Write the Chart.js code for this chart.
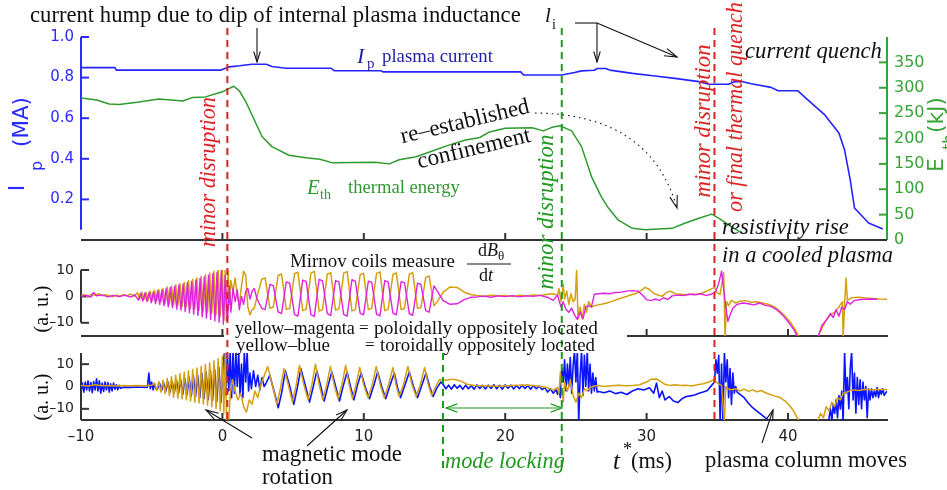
<!DOCTYPE html>
<html>
<head>
<meta charset="utf-8">
<title>Plasma current, thermal energy and Mirnov signals</title>
<script src="https://cdn.jsdelivr.net/npm/chart.js@4.4.1/dist/chart.umd.min.js"></script>
<style>
  html, body { margin: 0; padding: 0; background: #fff; }
  #stage { position: relative; width: 947px; height: 490px; overflow: hidden; background: #fff; }
  #stage canvas { position: absolute; left: 0; top: 0; }
</style>
</head>
<body>
<div id="stage">
  <canvas id="cTop" width="947" height="490"></canvas>
  <canvas id="cMid" width="947" height="490"></canvas>
  <canvas id="cBot" width="947" height="490"></canvas>
</div>
<script>
// ---- time axis (ms) ----
const T_MIN = -10, T_MAX = 47;
const timeTicks = [-10, 0, 10, 20, 30, 40];
const ipTicks = [0.2, 0.4, 0.6, 0.8, 1.0];
const ethTicks = [0, 50, 100, 150, 200, 250, 300, 350];
const mirnovTicks = [-10, 0, 10];

// event instants (ms)
const tMinor1 = 0.35, tLockStart = 15.6, tMinor2 = 24.0, tFinal = 34.8;

// plasma current I_p : [t (ms), MA]
const plasmaCurrent = [
  [-10,0.849],[-7.6,0.849],[-7.5,0.837],[-0.1,0.837],[0.5,0.853],[1.2,0.858],[2.1,0.866],[3.1,0.866],
  [3.5,0.855],[4.5,0.846],[7.7,0.846],[7.9,0.834],[11.2,0.834],[11.4,0.828],[21.1,0.828],[21.3,0.813],
  [24.0,0.813],[24.9,0.825],[25.4,0.833],[26.3,0.836],[26.5,0.845],[27.1,0.845],[27.4,0.837],[29.0,0.821],
  [30.6,0.808],[32.0,0.796],[33.7,0.780],[34.4,0.767],[35.8,0.767],[36.2,0.780],[36.8,0.780],[37.4,0.770],
  [38.8,0.752],[39.3,0.735],[40.7,0.735],[41.4,0.690],[42.6,0.616],[43.6,0.527],[44.0,0.443],[44.4,0.296],
  [44.7,0.158],[45.7,0.084],[46.7,0.054]
];

// thermal energy E_th : [t (ms), kJ]
const thermalEnergy = [
  [-10,280],[-8.9,276],[-8.0,268],[-7.3,267],[-5.9,272],[-4.5,278],[-2.8,274],[-2.1,281],[-1.2,282],
  [0.0,292],[0.8,303],[1.2,294],[1.7,270],[2.8,204],[3.5,184],[4.7,167],[5.9,162],[6.9,159],[7.8,152],
  [10.8,153],[11.8,150],[12.5,158],[13.7,164],[14.9,176],[15.8,185],[17.2,197],[18.2,202],[18.9,213],
  [20.0,220],[21.9,221],[22.7,215],[23.3,222],[23.9,225],[24.7,215],[25.4,184],[26.1,125],[26.8,85],
  [27.3,63],[28.0,39],[29.0,23],[29.9,20],[31.8,23],[32.7,33],[33.7,43],[34.6,51],[35.1,43],[36.0,26],[36.8,13]
];

// Mirnov coil dB/dt, poloidal pair (a.u.) : [t (ms), value]
const mirnovYellowPol = [
  [-10,0.3],[-9.75,0.7],[-9.5,-0.2],[-9.25,0.9],[-9,0.4],[-8.75,1.0],[-8.5,0.2],[-8.25,0.6],[-8,0.3],[-7.75,-0.1],
  [-7.5,0.5],[-7.25,0.1],[-7,0.6],[-6.75,0.2],[-6.5,0.9],[-6.25,0.1],
  [-6.0,1.4],[-5.85,-1.0],[-5.7,1.6],[-5.55,-1.2],[-5.4,1.5],[-5.25,-1.4],[-5.1,2.0],[-4.95,-1.5],[-4.8,2.2],
  [-4.65,-1.8],[-4.5,2.6],[-4.35,-2.0],[-4.2,3.0],[-4.05,-2.6],[-3.9,3.6],[-3.75,-2.8],[-3.6,3.9],[-3.45,-3.2],
  [-3.3,4.4],[-3.15,-3.4],[-3.0,4.9],[-2.85,-3.8],[-2.7,5.3],[-2.55,-4.0],[-2.4,5.9],[-2.25,-4.5],[-2.1,6.4],
  [-1.95,-4.8],[-1.8,7.0],[-1.65,-5.2],[-1.5,7.6],[-1.35,-5.6],[-1.2,8.2],[-1.05,-6.0],[-0.9,8.9],[-0.75,-6.4],
  [-0.6,9.5],[-0.45,-6.9],[-0.3,10.5],[-0.15,-7.4],[0.0,10.5],[0.1,-9],[0.2,10.5],[0.3,-14],[0.4,10.5],[0.5,-3],
  [0.6,6],[0.75,2],[0.9,7],[1.05,0],[1.2,-3],[1.35,4],[1.5,9.5],[1.65,8],[1.8,-4],[1.95,-7],[2.1,-5],[2.25,-4.5],[2.5,1],
  [2.78,6.5],[3.02,7.0],[3.36,-4.5],[3.6,-4.0],
  [3.94,7.9],[4.18,8.5],[4.52,-5.0],[4.76,-4.6],
  [5.1,8.6],[5.34,9.2],[5.68,-5.4],[5.92,-4.9],
  [6.26,8.8],[6.5,9.5],[6.84,-5.6],[7.08,-5.0],
  [7.42,8.4],[7.66,9.0],[8.0,-5.2],[8.24,-4.7],
  [8.58,8.8],[8.82,9.4],[9.16,-5.5],[9.4,-5.0],
  [9.74,8.2],[9.98,8.8],[10.32,-5.0],[10.56,-4.5],
  [10.9,8.7],[11.14,9.3],[11.48,-5.4],[11.72,-4.8],
  [12.06,8.3],[12.3,8.9],[12.64,-5.0],[12.88,-4.5],
  [13.22,8.4],[13.46,9.0],[13.8,-4.6],[14.04,-4.2],
  [14.38,7.2],[14.62,7.7],[14.96,-3.5],[15.2,-2.0],
  [15.6,1.5],[16.1,3.6],[16.6,3.4],[17.1,1.6],[17.6,0.6],
  [18.0,0.3],[18.5,0.1],[19.0,0.4],[19.5,0.2],[20.0,0.3],[20.5,0.0],[21.0,0.4],[21.5,0.2],[22.0,0.5],[22.5,0.3],
  [23.0,0.8],[23.4,1.0],[23.7,0.4],
  [23.8,3.0],[23.95,-2.0],[24.1,4.5],[24.2,-1],[24.35,2],[24.5,-3],[24.65,1],[24.8,-2],[24.95,-1],[25.05,10],
  [25.15,-8.5],[25.3,-4],[25.45,-8.5],[25.6,-3],[25.75,-6],[25.9,-2],[26.1,-4],[26.4,-3.4],[26.8,-3],[27.2,-2.5],
  [27.6,-1.8],[28.0,-1.0],[28.4,-0.3],[28.8,0.4],[29.2,1.0],[29.6,2.2],[29.9,3.4],[30.2,2.6],[30.5,1.2],[30.8,0.5],
  [31.1,0.0],[31.4,1.5],[31.7,2.0],[32.0,1.0],[32.4,0.8],[32.8,0.6],[33.2,0.9],[33.6,0.7],[34.0,1.4],[34.4,2.4],
  [34.8,3.4],[35.0,1.2],[35.2,0.8],[35.45,9],[35.55,-16],[35.65,-2],[35.8,-3.5],[36.0,-1.5],[36.3,-2.5],[36.6,-1.8],
  [37.0,-1.6],[37.4,-2.2],[37.8,-2.0],[38.2,-2.5],[38.6,-3.0],[39.0,-3.8],[39.4,-5.5],[39.8,-7.5],[40.2,-10],
  [40.5,-12.5],[40.8,-15.5],[41.0,-20],[42.0,-20],[42.15,-15],[42.4,-12],[42.7,-9],[43.0,-7],[43.3,-6],[43.6,-4],
  [43.85,-2],[43.9,-16],[44.0,-3],[44.1,7],[44.2,-1.5],[44.5,-0.5],[45.0,-0.3],[45.5,-0.6],[46.0,-0.8],[46.5,-1.0],[47,-1.1]
];

const mirnovMagentaPol = [
  [-10,0.0],[-9.6,0.4],[-9.3,-0.3],[-9.1,1.5],[-8.9,0.2],[-8.5,0.6],[-8.1,-0.2],[-7.7,0.4],[-7.3,-0.1],[-6.9,0.5],
  [-6.5,-0.3],[-6.2,0.6],
  [-5.93,-1.4],[-5.78,1.2],[-5.63,-1.8],[-5.48,1.3],[-5.33,-2.0],[-5.18,1.6],[-5.03,-2.4],[-4.88,1.8],[-4.73,-2.7],
  [-4.58,2.2],[-4.43,-3.0],[-4.28,2.5],[-4.13,-3.5],[-3.98,3.0],[-3.83,-3.9],[-3.68,3.4],[-3.53,-4.3],[-3.38,3.8],
  [-3.23,-4.8],[-3.08,4.2],[-2.93,-5.2],[-2.78,4.6],[-2.63,-5.7],[-2.48,5.2],[-2.33,-6.2],[-2.18,5.7],[-2.03,-6.7],
  [-1.88,6.2],[-1.73,-7.2],[-1.58,6.8],[-1.43,-7.7],[-1.28,7.4],[-1.13,-8.2],[-0.98,8.0],[-0.83,-8.7],[-0.68,8.6],
  [-0.53,-9.2],[-0.38,9.2],[-0.23,-9.8],[-0.08,9.8],[0.07,-10.5],[0.2,8],[0.35,-11],[0.5,4],[0.6,-6],
  [0.75,3],[0.9,-2],[1.05,2.5],[1.2,-5],[1.35,0],[1.5,-3],[1.65,2],[1.8,3],[1.95,-1],[2.1,2],[2.25,3],[2.45,-1],
  [2.78,-4.5],[3.02,-5.0],[3.36,4.5],[3.6,4.1],
  [3.94,-5.9],[4.18,-6.5],[4.52,5.5],[4.76,5.0],
  [5.1,-6.8],[5.34,-7.5],[5.68,6.2],[5.92,5.7],
  [6.26,-6.9],[6.5,-7.6],[6.84,6.4],[7.08,5.9],
  [7.42,-6.5],[7.66,-7.2],[8.0,6.0],[8.24,5.5],
  [8.58,-6.8],[8.82,-7.5],[9.16,6.3],[9.4,5.8],
  [9.74,-6.3],[9.98,-7.0],[10.32,5.8],[10.56,5.3],
  [10.9,-6.7],[11.14,-7.4],[11.48,6.0],[11.72,5.5],
  [12.06,-6.3],[12.3,-7.0],[12.64,5.6],[12.88,5.1],
  [13.22,-6.5],[13.46,-7.2],[13.8,5.0],[14.04,4.5],
  [14.38,-5.4],[14.62,-6.0],[14.96,4.0],[15.2,2.0],
  [15.6,-1.5],[16.1,-3.0],[16.6,-2.8],[17.1,-1.2],[17.6,-0.3],
  [18.0,-0.2],[18.5,0.1],[19.0,-0.3],[19.5,0.2],[20.0,-0.1],[20.5,0.3],[21.0,-0.2],[21.5,0.2],[22.0,0.0],[22.5,0.4],
  [23.0,-0.4],[23.4,-1.5],[23.7,0.5],
  [23.8,-1.5],[23.95,-4],[24.1,-2],[24.3,-5],[24.5,-6],[24.7,-4.5],[24.9,-7],[25.1,-8.7],[25.3,-6],[25.5,-8.5],
  [25.7,-4],[25.9,-3.5],[26.1,-4],[26.3,0.8],[26.6,1.0],[27.0,1.2],[27.4,1.0],[27.8,1.5],[28.2,1.6],[28.6,2.0],
  [29.0,2.2],[29.4,2.0],[29.7,0.5],[30.0,-1.2],[30.3,-1.6],[30.6,-1.0],[30.9,-1.5],[31.2,-0.5],[31.5,-1.2],[31.8,0.2],
  [32.2,0.5],[32.6,0.3],[33.0,0.8],[33.4,0.6],[33.8,1.0],[34.2,0.4],[34.6,0.8],[34.9,2],[35.1,5],[35.3,9.5],
  [35.45,3],[35.6,-4],[35.75,-9.5],[35.9,-7],[36.1,-4.5],[36.4,-3],[36.8,-2.5],[37.2,-2.8],[37.6,-3.2],[38.0,-2.5],
  [38.4,-3.4],[38.8,-3.8],[39.2,-5],[39.6,-7],[40.0,-9.5],[40.4,-12.5],[40.7,-15.5],[40.9,-20],[42.0,-20],
  [42.1,-15.5],[42.4,-11],[42.7,-9],[43.0,-6.5],[43.2,-8],[43.4,-5],[43.6,-7.5],[43.8,-4],[44.0,-5],[44.2,-2],
  [44.4,-3],[44.7,-1.5],[45.2,-1.2],[45.8,-1.0],[46.3,-1.1]
];

// Mirnov coil dB/dt, toroidal pair (a.u.) : [t (ms), value]
const mirnovYellowTor = [
  [-10,0.5],[-9.5,0.2],[-9,0.8],[-8.5,0.3],[-8,0.5],[-7.5,0.2],[-7,0.4],[-6.5,0.3],[-6,0.5],[-5.5,0.3],[-5,0.6],
  [-4.8,1.5],[-4.65,-1.8],[-4.5,2.2],[-4.35,-2.5],[-4.2,2.8],[-4.05,-3.2],[-3.9,3.6],[-3.75,-4.0],[-3.6,4.4],
  [-3.45,-4.8],[-3.3,5.0],[-3.15,-5.2],[-3.0,5.8],[-2.85,-5.6],[-2.7,6.4],[-2.55,-6.0],[-2.4,7.0],[-2.25,-6.5],
  [-2.1,7.6],[-1.95,-7.0],[-1.8,8.3],[-1.65,-7.4],[-1.5,9.0],[-1.35,-7.8],[-1.2,9.8],[-1.05,-8.4],[-0.9,10.6],
  [-0.75,-9.0],[-0.6,11.5],[-0.45,-9.8],[-0.3,12.5],[-0.15,-10.8],[0.0,13.5],[0.1,-12],[0.2,15.5],[0.3,-16],
  [0.45,-16],[0.55,-4],
  [0.7,3],[0.9,-2],[1.1,-6],[1.3,-3],[1.5,-9],[1.7,-11.5],[1.9,-6],[2.1,-8],[2.3,-2],[2.5,-5],[2.7,0.5],
  [3.2,9.0],[3.5,1.5],[3.85,-8.0],[4.1,-1.0],[4.35,8.0],[4.65,1.0],[4.95,-7.0],[5.2,0.0],[5.45,9.5],[5.75,1.0],
  [6.06,-6.0],[6.32,0.5],[6.58,10.0],[6.84,1.0],[7.1,-6.0],[7.37,0.5],[7.64,9.0],[7.9,0.8],[8.18,-5.5],[8.45,0.8],
  [8.72,9.5],[8.96,1.0],[9.2,-5.5],[9.45,0.8],[9.71,8.5],[10.0,0.6],[10.3,-5.0],[10.6,0.8],[10.88,9.0],[11.16,0.8],
  [11.45,-5.0],[11.75,0.8],[12.06,8.5],[12.28,0.6],[12.5,-4.5],[12.8,0.8],[13.12,9.0],[13.4,1.0],[13.7,-4.5],
  [14.0,0.8],[14.3,8.5],[14.55,1.0],[14.8,-4.0],[15.08,0.0],[15.35,3.0],
  [15.8,2.8],[16.3,3.3],[16.8,2.6],[17.3,1.0],[17.8,0.4],[18.5,0.3],[19.5,0.1],[20.5,0.5],[21.5,0.7],[22.3,0.2],
  [23.0,-0.6],[23.4,-1.6],[23.7,-0.5],
  [23.8,-3],[23.9,6.5],[24.0,-1],[24.1,-6.9],[24.2,2],[24.4,-2],[24.6,3],[24.8,-4],[25.0,-7],[25.2,-3],[25.4,-5],
  [25.6,-1],[25.8,-2],[26.0,-0.5],[26.3,0.2],[26.6,0.4],[27.0,0.0],[27.5,0.3],[28.0,0.6],[28.5,0.3],[29.0,0.5],
  [29.5,0.8],[30.0,2.0],[30.3,3.2],[30.7,3.4],[31.0,2.2],[31.3,1.0],[31.6,0.5],[32.0,0.8],[32.4,0.4],[32.8,0.6],
  [33.2,0.2],[33.6,0.8],[34.0,1.2],[34.4,2.0],[34.8,3.2],[35.0,1.5],[35.3,0.5],[35.5,-16],[35.6,0],[35.7,-1],
  [36.0,-1.5],[36.3,-1.0],[36.6,-2.0],[36.9,-1.2],[37.2,-2.2],[37.5,-1.5],[37.8,-2.4],[38.1,-1.8],[38.4,-2.8],
  [38.7,-3.5],[39.0,-4.2],[39.4,-4.8],[39.8,-6.5],[40.1,-8.5],[40.4,-11],[40.6,-13.5],[40.8,-15.5],[41.0,-20],
  [42.0,-20],[42.1,-15.5],[42.3,-12],[42.5,-14],[42.7,-9],[42.9,-11],[43.1,-7],[43.3,-9],[43.5,-5],[43.7,-6],
  [43.9,-3],[44.2,-2.5],[44.5,-1.5],[45.0,-1.8],[45.5,-1.2],[46.0,-1.5],[46.5,-1.2],[47,-1.4]
];

const mirnovBlueTor = [
  [-10,-2],[-9.9,1.5],[-9.8,-2.5],[-9.7,2],[-9.6,-1.5],[-9.5,2.5],[-9.4,-2],[-9.3,1.8],[-9.2,-2.8],[-9.1,2.2],
  [-9.0,-1.5],[-8.9,3.5],[-8.8,-2],[-8.7,2.5],[-8.6,-3],[-8.5,1.5],[-8.4,-2.2],[-8.3,2],[-8.2,-1.5],[-8.1,1.8],
  [-8.0,-2.5],[-7.9,1.2],[-7.8,-2],[-7.7,1.5],[-7.6,-1.2],[-7.5,0.8],[-7.4,-1.5],[-7.3,0.5],[-7.2,-0.8],[-7.0,-0.3],
  [-6.5,-0.4],[-6.0,-0.2],[-5.5,-0.4],[-5.3,-0.3],[-5.2,6.0],[-5.1,-1],[-5.0,2],[-4.9,-1.5],[-4.8,1.2],[-4.7,-1.0],
  [-4.6,-1.2],[-4.45,1.5],[-4.3,-1.8],[-4.15,1.6],[-4.0,-2.0],[-3.85,2.0],[-3.7,-2.4],[-3.55,2.2],[-3.4,-2.6],
  [-3.25,2.8],[-3.1,-3.0],[-2.95,3.0],[-2.8,-3.4],[-2.65,3.5],[-2.5,-3.6],[-2.35,4.0],[-2.2,-4.2],[-2.05,4.6],
  [-1.9,-4.6],[-1.75,5.0],[-1.6,-5.0],[-1.45,5.8],[-1.3,-5.4],[-1.15,6.4],[-1.0,-5.8],[-0.85,7.0],[-0.7,-6.2],
  [-0.55,7.6],[-0.4,-6.8],[-0.25,8.5],[-0.1,-7.0],[0.05,9.5],
  [0.15,15.5],[0.25,-4],[0.35,15.5],[0.45,-2],[0.55,15.5],[0.65,-5],[0.75,15.5],[0.85,-3],[0.95,15.5],[1.05,0],
  [1.15,15.5],[1.25,-4],[1.35,10],[1.45,-5],[1.55,15.5],[1.65,2],[1.75,15.5],[1.85,-2],[1.95,6],[2.05,-1],[2.2,7],
  [2.35,0],[2.5,5],[2.65,-1.5],[2.8,4],[2.95,0],
  [3.05,1.0],[3.35,5.0],[3.65,-2.0],[3.95,-9.5],[4.2,-2.5],[4.45,7.0],[4.75,0.5],[5.05,-8.0],[5.3,-0.5],
  [5.55,8.0],[5.85,0.8],[6.16,-7.0],[6.42,-0.2],[6.68,7.0],[6.94,0.5],[7.2,-6.5],[7.47,0.3],[7.74,6.5],[8.0,0.2],
  [8.28,-6.5],[8.55,0.4],[8.82,6.5],[9.06,0.0],[9.3,-6.0],[9.55,0.5],[9.81,6.0],[10.1,-0.2],[10.4,-5.5],[10.7,0.3],
  [10.98,6.5],[11.26,0.0],[11.55,-5.5],[11.85,0.5],[12.16,6.0],[12.38,-0.3],[12.6,-5.0],[12.9,0.5],[13.22,6.5],
  [13.5,0.2],[13.8,-5.0],[14.1,0.6],[14.4,6.0],[14.65,0.0],[14.9,-4.5],[15.18,-0.5],[15.45,2.0],
  [15.6,1.0],[15.8,-1.0],[16.0,0.6],[16.2,-1.2],[16.4,0.8],[16.6,-0.8],[16.8,0.5],[17.0,-1.2],[17.2,0.6],[17.4,-1.0],
  [17.6,0.4],[17.8,-1.2],[18.0,0.7],[18.2,-0.9],[18.4,0.5],[18.6,-1.1],[18.8,0.6],[19.0,-0.9],[19.2,0.8],[19.4,-1.0],
  [19.6,0.5],[19.8,-1.2],[20.0,0.7],[20.2,-0.8],[20.4,0.6],[20.6,-1.1],[20.8,0.4],[21.0,-1.0],[21.2,0.6],[21.4,-0.9],
  [21.6,0.5],[21.8,-1.2],[22.0,0.4],[22.2,-1.0],[22.4,0.2],[22.6,-1.4],[22.8,-0.5],[23.0,-2.5],[23.2,-1.0],[23.4,-3.0],
  [23.6,-1.5],[23.7,-3.5],
  [23.8,-1],[23.9,-5],[24.0,8],[24.1,2],[24.2,12],[24.3,-2],[24.4,10],[24.5,0],[24.6,13],[24.7,-3],[24.8,9],
  [24.9,16],[25.0,2],[25.1,16],[25.2,-16],[25.3,5],[25.4,16],[25.5,-4],[25.6,14],[25.7,0],[25.8,16],[25.9,-2],
  [26.0,10],[26.1,-3],[26.2,6],[26.3,-2],[26.4,4],[26.5,-2.5],[26.6,-2.2],[27.0,-2.8],[27.4,-2.0],[27.8,-3.2],
  [28.2,-2.6],[28.6,-3.6],[29.0,-2.0],[29.4,-1.0],[29.8,-1.6],[30.2,-0.6],[30.5,-3],[30.7,1.5],[30.9,-5],[31.1,-2],
  [31.3,-6],[31.6,-4.5],[31.9,-6.5],[32.2,-7.2],[32.5,-5.5],[32.8,-4.5],[33.1,-4.2],[33.4,-3.8],[33.7,-3.0],
  [34.0,-2.5],[34.3,-1.8],[34.6,0.5],[34.8,2.0],
  [34.9,12],[35.0,6],[35.1,14],[35.2,-16],[35.3,10],[35.4,-16],[35.5,15.5],[35.6,2],[35.7,12],[35.8,-5],[35.9,8],
  [36.0,-8],[36.1,6],[36.2,-3],[36.3,0],[36.4,-2.5],[36.6,-3.5],[36.9,-5],[37.2,-7.5],[37.5,-9.5],[37.8,-11],
  [38.1,-12.5],[38.4,-14],[38.7,-15.5],[38.9,-20],[42.8,-20],[42.9,-14],[43.0,-10],[43.1,-15.5],[43.2,-8],[43.3,-12],
  [43.4,-6],[43.5,-14],[43.6,-4],[43.7,-10],[43.8,-2],[43.9,-16],[44.0,15.5],[44.1,-3],[44.2,4],[44.3,-10],[44.4,8],
  [44.5,15.5],[44.6,-6],[44.7,6],[44.8,-12],[44.9,4],[45.0,-8],[45.1,3],[45.2,-10],[45.3,2],[45.4,-6],[45.5,0],
  [45.6,-14],[45.7,-1],[45.8,-6],[45.9,-1],[46.0,-5],[46.1,-2],[46.2,-4.5],[46.3,-0.5],[46.4,-5],[46.5,-1.5],
  [46.6,-3.5],[46.7,-1],[46.8,-4],[47,-2]
];

// ---- styling ----
const SERIF = '"Liberation Serif", "Times New Roman", serif';
const SANS = '"DejaVu Sans", "Liberation Sans", Arial, sans-serif';
const IP_BLUE = '#2323ff', IP_AXIS = '#2a2aff', NAVY = '#1f1fa0';
const ETH_GREEN = '#2f9a2f', ETH_AXIS = '#36a336';
const YELLOW = '#d4a010', MAGENTA = '#e022e0', BLUE = '#0a14ff';
const RED = '#dd2222', GREEN = '#1e9a1e', AXIS = '#333';

const fmtSigned = v => (v < 0 ? '\u2013' + Math.abs(v) : String(v));

function series(pairs, color, width, extra) {
  return Object.assign({
    data: pairs.map(p => ({ x: p[0], y: p[1] })),
    borderColor: color, borderWidth: width, pointRadius: 0, tension: 0,
    fill: false, borderJoinStyle: 'round'
  }, extra || {});
}

function baseOptions(padding) {
  return {
    responsive: false, animation: false, devicePixelRatio: 1, events: [],
    layout: { padding },
    plugins: { legend: { display: false }, tooltip: { enabled: false } }
  };
}

const hiddenTime = { type: 'linear', min: T_MIN, max: T_MAX, display: false };

function leftScale(min, max, ticks, color, size, cb) {
  return {
    position: 'left', min, max,
    afterFit: s => { s.width = 81; },
    afterBuildTicks: s => { s.ticks = ticks.map(v => ({ value: v })); },
    grid: { display: false, drawTicks: false }, border: { display: false },
    ticks: { color, padding: 7, font: { family: SANS, size }, callback: cb }
  };
}

const line = (ctx, x1, y1, x2, y2) => { ctx.beginPath(); ctx.moveTo(x1, y1); ctx.lineTo(x2, y2); ctx.stroke(); };

function head(ctx, x, y, ang, len, spread) {
  ctx.beginPath();
  ctx.moveTo(x - len * Math.cos(ang - spread), y - len * Math.sin(ang - spread));
  ctx.lineTo(x, y);
  ctx.lineTo(x - len * Math.cos(ang + spread), y - len * Math.sin(ang + spread));
  ctx.stroke();
}
function arrow(ctx, x1, y1, x2, y2, len, spread) {
  line(ctx, x1, y1, x2, y2);
  head(ctx, x2, y2, Math.atan2(y2 - y1, x2 - x1), len || 11, spread || 0.35);
}

function text(ctx, str, x, y, o) {
  o = o || {};
  ctx.save();
  const fam = o.family || SERIF, st = o.style || '';
  let size = o.size || 18;
  ctx.font = st + ' ' + size + 'px ' + fam;
  if (o.width) { size *= o.width / ctx.measureText(str).width; ctx.font = st + ' ' + size + 'px ' + fam; }
  ctx.translate(x, y);
  if (o.angle) ctx.rotate(o.angle * Math.PI / 180);
  ctx.textAlign = o.align || 'left';
  ctx.textBaseline = 'middle';
  ctx.fillStyle = o.color || '#111';
  ctx.fillText(str, 0, 0);
  const w = ctx.measureText(str).width;
  ctx.restore();
  return w;
}

// ---- axis frames ----
const topFrame = {
  id: 'topFrame',
  beforeDatasetsDraw(chart) {
    const { ctx, chartArea: a, scales } = chart;
    const yI = scales.yI, yE = scales.yE, x = scales.x;
    ctx.save();
    ctx.lineWidth = 2;
    ctx.strokeStyle = IP_AXIS;
    line(ctx, a.left, a.top, a.left, yI.getPixelForValue(0.05));
    ipTicks.forEach(v => line(ctx, a.left, yI.getPixelForValue(v), a.left + 8, yI.getPixelForValue(v)));
    ctx.strokeStyle = ETH_AXIS;
    line(ctx, a.right, a.top, a.right, a.bottom);
    ethTicks.forEach(v => line(ctx, a.right, yE.getPixelForValue(v), a.right - 8, yE.getPixelForValue(v)));
    ctx.strokeStyle = AXIS;
    line(ctx, a.left, a.bottom, a.right, a.bottom);
    timeTicks.slice(1).forEach(v => line(ctx, x.getPixelForValue(v), a.bottom, x.getPixelForValue(v), a.bottom - 7));
    ctx.restore();
  }
};

const midFrame = {
  id: 'midFrame',
  beforeDatasetsDraw(chart) {
    const { ctx, chartArea: a, scales } = chart;
    const y = scales.y, x = scales.x;
    ctx.save();
    ctx.lineWidth = 2; ctx.strokeStyle = AXIS;
    line(ctx, a.left, y.getPixelForValue(10), a.left, y.getPixelForValue(-10));
    mirnovTicks.forEach(v => line(ctx, a.left, y.getPixelForValue(v), a.left + 8, y.getPixelForValue(v)));
    line(ctx, a.left, a.bottom, a.right + 1, a.bottom);
    timeTicks.slice(1).forEach(v => line(ctx, x.getPixelForValue(v), a.bottom, x.getPixelForValue(v), a.bottom - 7));
    ctx.restore();
  }
};

const botFrame = {
  id: 'botFrame',
  beforeDatasetsDraw(chart) {
    const { ctx, chartArea: a, scales } = chart;
    const y = scales.y, x = scales.x;
    ctx.save();
    ctx.lineWidth = 2; ctx.strokeStyle = AXIS;
    line(ctx, a.left, a.top, a.left, a.bottom);
    mirnovTicks.forEach(v => line(ctx, a.left, y.getPixelForValue(v), a.left + 8, y.getPixelForValue(v)));
    line(ctx, a.left, a.bottom, a.right + 1, a.bottom);
    timeTicks.slice(1).forEach(v => line(ctx, x.getPixelForValue(v), a.bottom, x.getPixelForValue(v), a.bottom - 7));
    ctx.restore();
  }
};

// ---- labels, event markers and arrows over all three panels ----
const overlay = {
  id: 'overlay',
  afterDraw(chart) {
    const ctx = chart.ctx, x = chart.scales.x;
    ctx.save();

    // label block over the middle panel base line
    ctx.fillStyle = '#fff';
    ctx.fillRect(224, 321, 403, 31);

    // event markers
    ctx.lineWidth = 2; ctx.setLineDash([7, 5]);
    ctx.strokeStyle = RED;
    line(ctx, x.getPixelForValue(tMinor1), 28, x.getPixelForValue(tMinor1), 420);
    line(ctx, x.getPixelForValue(tFinal), 28, x.getPixelForValue(tFinal), 420);
    ctx.strokeStyle = GREEN;
    line(ctx, x.getPixelForValue(tMinor2), 28, x.getPixelForValue(tMinor2), 472);
    line(ctx, x.getPixelForValue(tLockStart), 353, x.getPixelForValue(tLockStart), 472);
    ctx.setLineDash([]);

    // axis titles
    text(ctx, 'I', 18, 188, { family: SANS, size: 22, angle: -90, align: 'center', color: IP_AXIS });
    text(ctx, 'p', 38, 166, { family: SANS, size: 16, angle: -90, align: 'center', color: IP_AXIS });
    text(ctx, '(MA)', 22, 122, { family: SANS, size: 22, angle: -90, align: 'center', width: 50, color: IP_AXIS });
    text(ctx, 'E', 937, 165, { family: SANS, size: 22, angle: -90, align: 'center', color: ETH_AXIS });
    text(ctx, 'th', 950, 142, { family: SANS, size: 15, angle: -90, align: 'center', color: ETH_AXIS });
    text(ctx, '(kJ)', 937, 115, { family: SANS, size: 22, angle: -90, align: 'center', width: 36, color: ETH_AXIS });
    text(ctx, '(a. u.)', 43, 309, { size: 17, angle: -90, align: 'center', width: 47 });
    text(ctx, '(a. u.)', 43, 397, { size: 17, angle: -90, align: 'center', width: 47 });

    // top panel notes
    text(ctx, 'current hump due to dip of internal plasma inductance', 30, 16, { width: 491 });
    text(ctx, 'l', 545, 16, { style: 'italic', size: 21 });
    text(ctx, 'i', 552, 25, { size: 14 });
    text(ctx, 'I', 357, 57, { style: 'italic', size: 22, color: NAVY });
    text(ctx, 'p', 367, 64, { size: 15, color: NAVY });
    text(ctx, 'plasma current', 382, 57, { width: 111, color: NAVY });
    text(ctx, 're\u2013established', 465, 122, { width: 132, angle: -13.5, align: 'center' });
    text(ctx, 'confinement', 474, 149, { width: 116, angle: -13.5, align: 'center' });
    text(ctx, 'E', 307, 188, { style: 'italic', size: 21, color: ETH_GREEN });
    text(ctx, 'th', 320, 195, { size: 14, color: ETH_GREEN });
    text(ctx, 'thermal energy', 348, 188, { width: 112, color: ETH_GREEN });
    text(ctx, 'minor disruption', 209, 172, { style: 'italic', width: 150, angle: -90, align: 'center', color: RED });
    text(ctx, 'minor disruption', 547, 212, { style: 'italic', width: 155, angle: -90, align: 'center', color: GREEN });
    text(ctx, 'minor disruption', 704, 121, { style: 'italic', width: 153, angle: -90, align: 'center', color: RED });
    text(ctx, 'or final thermal quench', 736, 107, { style: 'italic', width: 210, angle: -90, align: 'center', color: RED });
    text(ctx, 'current quench', 745, 52, { style: 'italic', width: 137 });
    text(ctx, 'resistivity rise', 722, 228, { style: 'italic', width: 127 });
    text(ctx, 'in a cooled plasma', 722, 256, { style: 'italic', width: 171 });

    // Mirnov notes
    text(ctx, 'Mirnov coils measure', 290, 262, { width: 165 });
    let w = text(ctx, 'd', 478, 251, { size: 18 });
    const wB = text(ctx, 'B', 478 + w, 251, { size: 18, style: 'italic' });
    text(ctx, '\u03b8', 478 + w + wB, 257, { size: 13 });
    ctx.strokeStyle = '#111'; ctx.lineWidth = 1;
    line(ctx, 467, 264, 511, 264);
    w = text(ctx, 'd', 479, 276, { size: 18 });
    text(ctx, 't', 479 + w, 276, { size: 18, style: 'italic' });
    text(ctx, 'yellow\u2013magenta', 235, 329, { width: 120 });
    text(ctx, '=', 359, 329, { size: 17 });
    text(ctx, 'poloidally oppositely located', 374, 329, { width: 224 });
    text(ctx, 'yellow\u2013blue', 236, 346, { width: 94 });
    text(ctx, '=', 365, 346, { size: 17 });
    text(ctx, 'toroidally oppositely located', 380, 346, { width: 215 });

    // bottom notes
    text(ctx, 'magnetic mode', 262, 455, { width: 140 });
    text(ctx, 'rotation', 262, 478, { width: 71 });
    text(ctx, 'mode locking', 445, 462, { style: 'italic', width: 120, color: GREEN });
    text(ctx, 't', 613, 462, { style: 'italic', size: 25 });
    text(ctx, '*', 623, 450, { size: 18 });
    text(ctx, '(ms)', 631, 462, { width: 41 });
    text(ctx, 'plasma column moves', 705, 461, { width: 202 });

    // arrows
    ctx.strokeStyle = '#111'; ctx.lineWidth = 1.1;
    arrow(ctx, 257, 28, 257, 62, 11, 0.3);
    line(ctx, 575, 23, 597, 23);
    arrow(ctx, 597, 23, 597, 62, 11, 0.3);
    arrow(ctx, 597, 23, 677, 57, 13, 0.3);
    arrow(ctx, 252, 438, 206, 410, 13, 0.3);
    arrow(ctx, 307, 446, 347, 410, 12, 0.3);
    arrow(ctx, 762, 443, 773, 410, 11, 0.3);
    // dotted path from confinement recovery to the cooled plasma
    ctx.setLineDash([1.5, 4]);
    ctx.beginPath(); ctx.moveTo(535, 113); ctx.quadraticCurveTo(650, 114, 677, 208); ctx.stroke();
    ctx.setLineDash([]);
    head(ctx, 677, 208, Math.atan2(208 - 114, 677 - 650), 13, 0.3);
    // mode locking interval
    ctx.strokeStyle = GREEN;
    arrow(ctx, 504, 408, 446, 408, 12, 0.35);
    arrow(ctx, 504, 408, 562, 408, 12, 0.35);

    ctx.restore();
  }
};

// ---- panel 1: plasma current and thermal energy ----
new Chart(document.getElementById('cTop'), {
  type: 'line',
  data: { datasets: [
    series(thermalEnergy, ETH_GREEN, 1.5, { yAxisID: 'yE' }),
    series(plasmaCurrent, IP_BLUE, 1.6, { yAxisID: 'yI' })
  ] },
  options: Object.assign(baseOptions({ top: 37, bottom: 250, left: 0, right: 0 }), {
    scales: {
      x: hiddenTime,
      yI: leftScale(0, 1, ipTicks, IP_AXIS, 15, v => v.toFixed(1)),
      yE: {
        position: 'right', min: 0, max: 400,
        afterFit: s => { s.width = 60; },
        afterBuildTicks: s => { s.ticks = ethTicks.map(v => ({ value: v })); },
        grid: { display: false, drawTicks: false }, border: { display: false },
        ticks: { color: ETH_AXIS, padding: 7, font: { family: SANS, size: 16 } }
      }
    }
  }),
  plugins: [topFrame]
});

// ---- panel 2: poloidally opposite coils ----
new Chart(document.getElementById('cMid'), {
  type: 'line',
  data: { datasets: [
    series(mirnovMagentaPol, MAGENTA, 1.4),
    series(mirnovYellowPol, YELLOW, 1.5)
  ] },
  options: Object.assign(baseOptions({ top: 270, bottom: 154, left: 0, right: 60 }), {
    scales: {
      x: hiddenTime,
      y: leftScale(-15, 10, mirnovTicks, '#222', 14, fmtSigned)
    }
  }),
  plugins: [midFrame]
});

// ---- panel 3: toroidally opposite coils ----
new Chart(document.getElementById('cBot'), {
  type: 'line',
  data: { datasets: [
    series(mirnovYellowTor, YELLOW, 1.5),
    series(mirnovBlueTor, BLUE, 1.6)
  ] },
  options: Object.assign(baseOptions({ top: 353, bottom: 0, left: 0, right: 60 }), {
    scales: {
      x: {
        type: 'linear', min: T_MIN, max: T_MAX, position: 'bottom',
        afterFit: s => { s.height = 70; },
        afterBuildTicks: s => { s.ticks = timeTicks.map(v => ({ value: v })); },
        grid: { display: false, drawTicks: false }, border: { display: false },
        ticks: { color: '#222', padding: 8, maxRotation: 0, autoSkip: false,
                 font: { family: SANS, size: 15 }, callback: fmtSigned }
      },
      y: leftScale(-15, 15, mirnovTicks, '#222', 14, fmtSigned)
    }
  }),
  plugins: [botFrame, overlay]
});
</script>
</body>
</html>
